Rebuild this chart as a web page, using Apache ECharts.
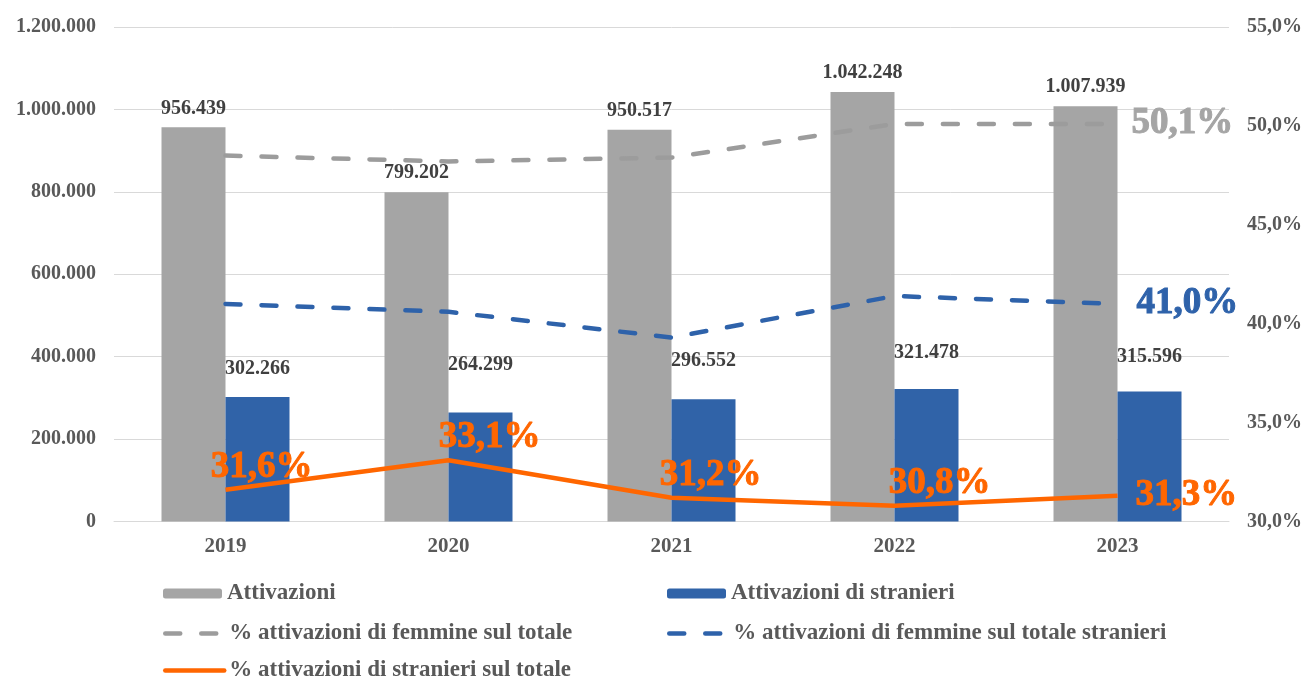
<!DOCTYPE html>
<html>
<head>
<meta charset="utf-8">
<script src="https://cdn.jsdelivr.net/npm/echarts@6/dist/echarts.min.js"></script>
<style>
    html, body { margin: 0; padding: 0; background: #fff; }
    #main { width: 1305px; height: 677px; }
</style>
</head>
<body>
<div id="main"></div>
<script>
// dati
var anni = ['2019', '2020', '2021', '2022', '2023'];
var attivazioni = [956439, 799202, 950517, 1042248, 1007939];
var attivazioniStranieri = [302266, 264299, 296552, 321478, 315596];
var femmineTotale = [48.5, 48.2, 48.4, 50.1, 50.1];
var femmineStranieri = [41.0, 40.6, 39.3, 41.4, 41.0];
var stranieriTotale = [31.6, 33.1, 31.2, 30.8, 31.3];

// stile etichette (spostamenti a mano come nel grafico originale)
var gapEtichetteBlu = [20, 40, 30, 28, 27];
var dxEtichetteArancio = [36, 41, 39, 45];

var FONT = "'Liberation Serif', 'Times New Roman', serif";
var GRIGIO = '#A5A5A5', GRIGIO_LINEA = '#9C9C9C', BLU = '#3063A8', ARANCIO = '#FF6600', BLU_LINEA = '#2E62AA';
var TRATTEGGIO = [15, 21];

function migliaia(v) {
    return String(Math.round(v)).replace(/\B(?=(\d{3})+(?!\d))/g, '.');
}
function perc(v) {
    return v.toFixed(1).replace('.', ',') + '%';
}

// etichetta grande delle linee: il grassetto qui non prende, lo ingrosso col bordo
function etichettaGrande(colore, extra) {
    var l = {
        show: true,
        fontFamily: FONT, fontSize: 37, fontWeight: 'bold', color: colore,
        textBorderColor: colore, textBorderWidth: 1,
        formatter: function (p) { return perc(p.value); }
    };
    for (var k in extra) l[k] = extra[k];
    return l;
}

function legenda(nome, left, top, linea) {
    var l = {
        data: [nome],
        left: left,
        top: top,
        padding: 0,
        itemWidth: 59,
        itemHeight: 10,
        itemGap: 0,
        textStyle: { fontFamily: FONT, fontSize: 23, fontWeight: 'bold', color: '#595959', lineHeight: 22 }
    };
    if (linea) {
        // niente pallino nella legenda, solo la linea
        l.itemStyle = { color: 'rgba(0,0,0,0)', borderColor: 'rgba(0,0,0,0)', borderWidth: 0 };
        l.lineStyle = { width: 4.5, type: linea === 'solid' ? 'solid' : TRATTEGGIO, cap: 'round' };
    }
    return l;
}

var option = {
    animation: false,
    backgroundColor: '#fff',
    textStyle: { fontFamily: FONT },
    grid: { left: 114, right: 75, top: 27, bottom: 155.5, containLabel: false },
    legend: [
        legenda('Attivazioni', 163, 582),
        legenda('Attivazioni di stranieri', 667, 582),
        legenda('% attivazioni di femmine sul totale', 163, 622, 'dash'),
        legenda('% attivazioni di femmine sul totale stranieri', 667, 622, 'dash'),
        legenda('% attivazioni di stranieri sul totale', 163, 659, 'solid')
    ],
    xAxis: {
        type: 'category',
        data: anni,
        axisTick: { show: false },
        axisLine: { lineStyle: { color: '#D9D9D9', width: 1 } },
        axisLabel: { margin: 15, fontFamily: FONT, fontSize: 21, fontWeight: 'bold', color: '#595959' }
    },
    yAxis: [
        {
            type: 'value',
            min: 0, max: 1200000, interval: 200000,
            axisLine: { show: false },
            axisTick: { show: false },
            splitLine: { lineStyle: { color: '#D9D9D9', width: 1 } },
            axisLabel: { margin: 18, fontFamily: FONT, fontSize: 20, fontWeight: 'bold', color: '#595959', formatter: migliaia }
        },
        {
            type: 'value',
            min: 30, max: 55, interval: 5,
            axisLine: { show: false },
            axisTick: { show: false },
            splitLine: { show: false },
            axisLabel: { margin: 18, fontFamily: FONT, fontSize: 20, fontWeight: 'bold', color: '#595959', formatter: perc }
        }
    ],
    series: [
        {
            name: 'Attivazioni',
            type: 'bar',
            barWidth: 64,
            barGap: '0%',
            itemStyle: { color: GRIGIO },
            label: {
                show: true, position: 'top', distance: 9,
                fontFamily: FONT, fontSize: 20, fontWeight: 'bold', color: '#404040',
                formatter: function (p) { return migliaia(p.value); }
            },
            data: attivazioni
        },
        {
            name: 'Attivazioni di stranieri',
            type: 'bar',
            barWidth: 64,
            barGap: '0%',
            itemStyle: { color: BLU },
            label: {
                show: true, position: 'top',
                fontFamily: FONT, fontSize: 20, fontWeight: 'bold', color: '#404040',
                formatter: function (p) { return migliaia(p.value); }
            },
            data: attivazioniStranieri.map(function (v, i) {
                return { value: v, label: { distance: gapEtichetteBlu[i] - 2 } };
            })
        },
        {
            name: '% attivazioni di femmine sul totale',
            type: 'line',
            yAxisIndex: 1,
            symbol: 'circle',
            symbolSize: 0,
            showSymbol: true,
            z: 3,
            lineStyle: { color: GRIGIO_LINEA, width: 4.5, type: TRATTEGGIO, cap: 'round' },
            itemStyle: { color: GRIGIO_LINEA },
            label: { show: false },
            data: femmineTotale.map(function (v, i) {
                if (i !== femmineTotale.length - 1) return v;
                return { value: v, label: etichettaGrande(GRIGIO, { position: 'right', distance: 14 }) };
            })
        },
        {
            name: '% attivazioni di femmine sul totale stranieri',
            type: 'line',
            yAxisIndex: 1,
            symbol: 'circle',
            symbolSize: 0,
            showSymbol: true,
            z: 3,
            lineStyle: { color: BLU_LINEA, width: 4.5, type: TRATTEGGIO, cap: 'round' },
            itemStyle: { color: BLU_LINEA },
            label: { show: false },
            data: femmineStranieri.map(function (v, i) {
                if (i !== femmineStranieri.length - 1) return v;
                return { value: v, label: etichettaGrande(BLU_LINEA, { position: 'right', distance: 19 }) };
            })
        },
        {
            name: '% attivazioni di stranieri sul totale',
            type: 'line',
            yAxisIndex: 1,
            symbol: 'circle',
            symbolSize: 0,
            showSymbol: true,
            z: 4,
            lineStyle: { color: ARANCIO, width: 4.5 },
            itemStyle: { color: ARANCIO },
            label: etichettaGrande(ARANCIO, { position: 'top', distance: 4 }),
            data: stranieriTotale.map(function (v, i) {
                if (i === stranieriTotale.length - 1) {
                    return { value: v, label: etichettaGrande(ARANCIO, { position: 'right', distance: 18 }) };
                }
                return { value: v, label: etichettaGrande(ARANCIO, { position: 'top', distance: 4, offset: [dxEtichetteArancio[i], 0] }) };
            })
        }
    ]
};

var chart = echarts.init(document.getElementById('main'));
chart.setOption(option);
</script>
</body>
</html>
